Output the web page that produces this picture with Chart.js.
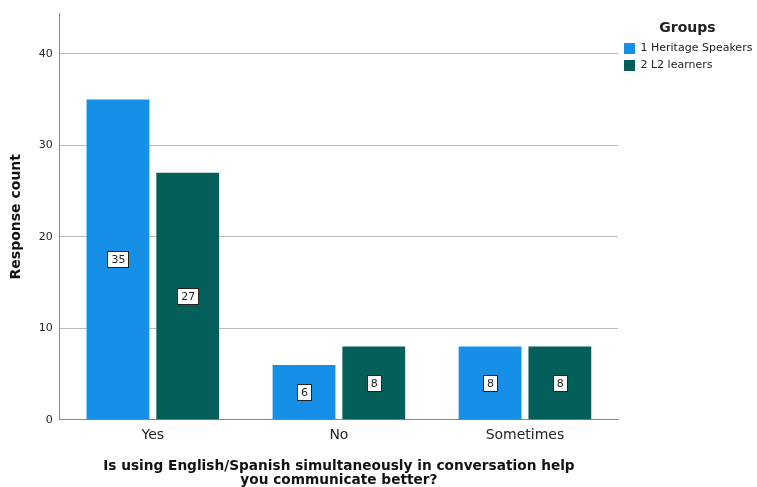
<!DOCTYPE html>
<html>
<head>
<meta charset="utf-8">
<script src="https://cdn.jsdelivr.net/npm/chart.js@4"></script>
<style>
  html, body { margin: 0; padding: 0; background: #fff; }
  #wrap { width: 757px; height: 487px; }
</style>
</head>
<body>
<div id="wrap"><canvas id="myChart" width="757" height="487"></canvas></div>
<script>
var categories = ['Yes', 'No', 'Sometimes'];
var heritageCounts = [35, 6, 8];
var l2Counts = [27, 8, 8];
var seriesNames = ['1 Heritage Speakers', '2 L2 learners'];
var yTickValues = [0, 10, 20, 30, 40];

var fontFamily = "'DejaVu Sans', sans-serif";

// white boxed count labels in the middle of each bar
var boxLabels = {
    id: 'boxLabels',
    afterDatasetsDraw: function (chart) {
        var ctx = chart.ctx;
        ctx.save();
        ctx.font = '11px ' + fontFamily;
        ctx.textAlign = 'center';
        ctx.textBaseline = 'middle';
        chart.data.datasets.forEach(function (ds, i) {
            chart.getDatasetMeta(i).data.forEach(function (bar, j) {
                var midY = (bar.y + bar.base) / 2;
                var txt = String(ds.data[j]);
                var w = Math.round(ctx.measureText(txt).width + 7);
                var h = 16;
                var x0 = Math.round(bar.x - w / 2), y0 = Math.round(midY - h / 2);
                ctx.fillStyle = '#fff';
                ctx.fillRect(x0, y0, w, h);
                ctx.strokeStyle = '#222';
                ctx.lineWidth = 1;
                ctx.strokeRect(x0 + 0.5, y0 + 0.5, w, h);
                ctx.fillStyle = '#222';
                ctx.fillText(txt, bar.x + 0.5, midY + 1);
            });
        });
        ctx.restore();
    }
};

var ctx = document.getElementById('myChart').getContext('2d');
var myChart = new Chart(ctx, {
    type: 'bar',
    data: {
        labels: categories,
        datasets: [{
            label: seriesNames[0],
            data: heritageCounts,
            backgroundColor: '#1590e6',
            borderWidth: 0,
            categoryPercentage: 0.75,
            barPercentage: 0.9
        }, {
            label: seriesNames[1],
            data: l2Counts,
            backgroundColor: '#045e59',
            borderWidth: 0,
            categoryPercentage: 0.75,
            barPercentage: 0.9
        }]
    },
    options: {
        responsive: false,
        animation: false,
        layout: {
            padding: { top: 11, left: 8, right: 0, bottom: 0 }
        },
        plugins: {
            legend: {
                position: 'right',
                align: 'start',
                maxWidth: 139,
                title: {
                    display: true,
                    text: 'Groups',
                    color: '#222',
                    font: { family: fontFamily, size: 14, weight: 'bold', lineHeight: 1.0 },
                    padding: { top: 10, bottom: 2 }
                },
                labels: {
                    boxWidth: 11,
                    boxHeight: 11,
                    padding: 6,
                    color: '#222',
                    font: { family: fontFamily, size: 11 }
                }
            },
            tooltip: { enabled: false }
        },
        scales: {
            x: {
                grid: { display: false, drawTicks: false },
                border: { color: '#888', width: 1 },
                ticks: {
                    color: '#222',
                    padding: 7,
                    font: { family: fontFamily, size: 14 }
                },
                title: {
                    display: true,
                    text: ['Is using English/Spanish simultaneously in conversation help', 'you communicate better?'],
                    color: '#111',
                    font: { family: fontFamily, size: 13.7, weight: 'bold', lineHeight: 1.0 },
                    padding: { top: 9, bottom: 0 }
                }
            },
            y: {
                min: 0,
                max: 44.4,
                afterBuildTicks: function (scale) {
                    scale.ticks = yTickValues.map(function (v) { return { value: v }; });
                },
                grid: { color: '#bdbdbd', drawTicks: false },
                border: { color: '#888', width: 1 },
                ticks: {
                    color: '#222',
                    padding: 7,
                    font: { family: fontFamily, size: 11 }
                },
                title: {
                    display: true,
                    text: 'Response count',
                    color: '#111',
                    font: { family: fontFamily, size: 14, weight: 'bold' },
                    padding: { top: 0, bottom: 7 }
                }
            }
        }
    },
    plugins: [boxLabels]
});
</script>
</body>
</html>
